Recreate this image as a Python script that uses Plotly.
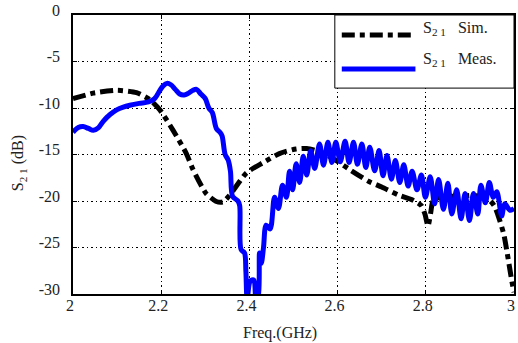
import plotly.graph_objects as go

# S21 simulated response (GHz, dB)
sim_freq = [2.000, 2.046, 2.100, 2.144, 2.174, 2.197, 2.227, 2.257, 2.272, 2.302,
            2.325, 2.340, 2.355, 2.393, 2.430, 2.468, 2.506, 2.530, 2.560, 2.581,
            2.600, 2.630, 2.671, 2.700, 2.740, 2.770, 2.790, 2.798, 2.805, 2.811,
            2.817, 2.840, 2.874, 2.910, 2.942, 2.955, 2.965, 2.977, 2.987, 2.995, 3.000]
sim_s21 = [-9.0, -8.4, -8.1, -8.35, -9.1, -10.2, -12.4, -14.9, -16.6, -19.2,
           -20.05, -20.1, -19.4, -17.0, -15.9, -14.9, -14.4, -14.35, -14.7, -15.2,
           -15.75, -16.7, -17.9, -18.5, -19.4, -19.9, -20.5, -21.4, -22.7, -21.3,
           -19.9, -19.5, -19.5, -19.4, -19.8, -20.5, -21.7, -23.6, -26.3, -28.6, -29.8]

# S21 measured response (GHz, dB)
meas_freq = [2.000, 2.012, 2.023, 2.035, 2.046, 2.058, 2.069, 2.084, 2.099, 2.114,
             2.129, 2.150, 2.171, 2.185, 2.197, 2.205, 2.213, 2.222, 2.232, 2.242,
             2.252, 2.262, 2.272, 2.280, 2.290, 2.300, 2.308, 2.316, 2.325, 2.333,
             2.338, 2.345, 2.352, 2.357, 2.362, 2.374, 2.378, 2.381, 2.389, 2.392,
             2.395, 2.402, 2.410, 2.415, 2.420, 2.423, 2.427, 2.432, 2.438, 2.447,
             2.457, 2.466, 2.475, 2.484, 2.491, 2.498, 2.506, 2.514, 2.522, 2.530,
             2.539, 2.548, 2.559, 2.568, 2.578, 2.587, 2.596, 2.606, 2.617, 2.626,
             2.636, 2.645, 2.655, 2.664, 2.673, 2.684, 2.694, 2.703, 2.712, 2.722,
             2.731, 2.741, 2.750, 2.760, 2.769, 2.780, 2.790, 2.799, 2.810, 2.820,
             2.829, 2.840, 2.850, 2.859, 2.870, 2.880, 2.889, 2.899, 2.908, 2.918,
             2.925, 2.935, 2.944, 2.953, 2.961, 2.972, 2.979, 2.991, 3.000]
meas_s21 = [-12.6, -12.1, -12.0, -12.2, -12.4, -12.1, -11.4, -10.7, -10.2, -9.9,
            -9.7, -9.5, -9.35, -9.0, -8.1, -7.6, -7.35, -7.5, -8.0, -8.5,
            -8.6, -8.4, -8.1, -8.0, -8.5, -9.0, -10.0, -10.5, -12.2, -12.6,
            -13.0, -15.0, -15.6, -16.8, -19.5, -20.0, -20.5, -25.2, -25.6, -27.5,
            -30.5, -28.6, -28.5, -30.5, -30.2, -25.6, -26.7, -25.0, -22.6, -23.0,
            -19.6, -20.8, -18.3, -19.6, -16.8, -18.8, -16.0, -18.0, -15.2, -17.2,
            -14.6, -16.5, -13.86, -16.15, -13.68, -15.86, -13.68, -15.79, -13.57, -15.86,
            -13.68, -16.04, -13.86, -16.4, -14.21, -16.76, -14.58, -17.29, -15.11, -17.65,
            -15.65, -18.0, -16.1, -18.4, -16.8, -18.8, -17.2, -19.6, -17.4, -20.3,
            -17.7, -20.9, -18.1, -21.4, -18.8, -21.9, -19.2, -22.1, -19.2, -21.4,
            -18.3, -20.2, -18.0, -19.6, -19.0, -21.6, -20.3, -21.0, -20.8]

x_ticks = [2.0, 2.2, 2.4, 2.6, 2.8, 3.0]
x_tick_labels = ["2", "2.2", "2.4", "2.6", "2.8", "3"]
y_ticks = [0, -5, -10, -15, -20, -25, -30]
y_tick_labels = ["0", "-5", "-10", "-15", "-20", "-25", "-30"]

SERIF = "Liberation Serif, Times New Roman, serif"
DASHDOT = "13px,5px,5px,5px"

fig = go.Figure()
fig.add_trace(go.Scatter(x=sim_freq, y=sim_s21, mode="lines", name="S21 Sim.",
                         line=dict(color="black", width=5, dash=DASHDOT, shape="spline", smoothing=0.6)))
fig.add_trace(go.Scatter(x=meas_freq, y=meas_s21, mode="lines", name="S21 Meas.",
                         line=dict(color="#0000ff", width=5, shape="spline", smoothing=0.9)))

axis_common = dict(
    showline=True, linecolor="black", linewidth=1.5, mirror="ticks",
    ticks="inside", ticklen=4, tickcolor="black", tickwidth=1,
    showgrid=True, gridcolor="black", gridwidth=1, griddash="1.5px,3px",
    zeroline=False, tickfont=dict(family=SERIF, size=16, color="#222"),
)

fig.update_xaxes(range=[2, 3], tickvals=x_ticks, ticktext=x_tick_labels,
                 ticklabelshift=-3, ticklabelstandoff=-4, **axis_common)
fig.update_yaxes(range=[-30, 0], tickvals=y_ticks, ticktext=y_tick_labels,
                 ticklabelshift=-5, ticklabelstandoff=8, **axis_common)

# legend box with line samples
fig.add_shape(type="rect", xref="paper", yref="paper", x0=0.5937, x1=1.0, y0=0.738, y1=1.0,
              line=dict(color="black", width=1), fillcolor="white", layer="above")
fig.add_shape(type="line", xref="paper", yref="paper", x0=0.6095, x1=0.7765, y0=0.9283, y1=0.9283,
              line=dict(color="black", width=5, dash=DASHDOT), layer="above")
fig.add_shape(type="line", xref="paper", yref="paper", x0=0.6095, x1=0.7765, y0=0.8065, y1=0.8065,
              line=dict(color="#0000ff", width=5), layer="above")

legend_font = dict(family=SERIF, size=16, color="#222")
fig.add_annotation(xref="paper", yref="paper", x=0.790, y=0.950, xanchor="left", yanchor="middle",
                   text="S<sub>2 1</sub>\u00a0\u00a0\u00a0Sim.", showarrow=False, font=legend_font)
fig.add_annotation(xref="paper", yref="paper", x=0.790, y=0.842, xanchor="left", yanchor="middle",
                   text="S<sub>2 1</sub>\u00a0\u00a0\u00a0Meas.", showarrow=False, font=legend_font)

# axis titles
fig.add_annotation(xref="paper", yref="paper", x=0.4695, y=-0.1398, xanchor="center", yanchor="middle",
                   text="Freq.(GHz)", showarrow=False, font=dict(family=SERIF, size=16, color="#222"))
fig.add_annotation(xref="paper", yref="paper", x=-0.123, y=0.468, xanchor="center", yanchor="middle",
                   text="S<sub>2 1</sub> (dB)", textangle=-90, showarrow=False,
                   font=dict(family=SERIF, size=16, color="#222"))

fig.update_layout(
    width=518, height=343,
    margin=dict(l=73, r=2, t=15, b=49),
    paper_bgcolor="white", plot_bgcolor="white",
    showlegend=False,
)

fig.write_html("out.html")
